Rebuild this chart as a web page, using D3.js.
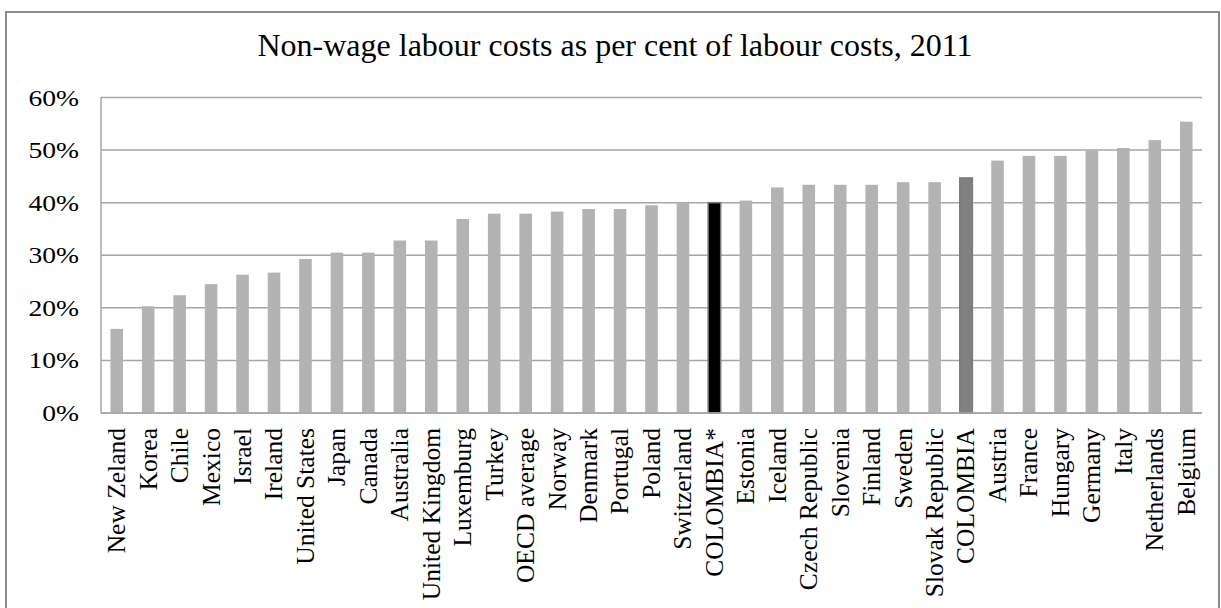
<!DOCTYPE html>
<html>
<head>
<meta charset="utf-8">
<script src="https://cdn.jsdelivr.net/npm/d3@7"></script>
<style>
  html, body { margin: 0; padding: 0; background: #fff; }
  svg { display: block; }
  text { font-family: "Liberation Serif", "Times New Roman", serif; fill: #000; }
</style>
</head>
<body>
<svg id="chart" width="1221" height="608"></svg>
<script>
// Non-wage labour costs, share of total labour costs (%), 2011
const countries = [
  "New Zeland", "Korea", "Chile", "Mexico", "Israel", "Ireland", "United States",
  "Japan", "Canada", "Australia", "United Kingdom", "Luxemburg", "Turkey",
  "OECD average", "Norway", "Denmark", "Portugal", "Poland", "Switzerland",
  "COLOMBIA*", "Estonia", "Iceland", "Czech Republic", "Slovenia", "Finland",
  "Sweden", "Slovak Republic", "COLOMBIA", "Austria", "France", "Hungary",
  "Germany", "Italy", "Netherlands", "Belgium"
];
const shares = [
  16.0, 20.3, 22.4, 24.5, 26.3, 26.7, 29.3,
  30.5, 30.5, 32.8, 32.8, 36.9, 37.9,
  37.9, 38.3, 38.8, 38.8, 39.5, 39.9,
  40.0, 40.4, 42.9, 43.4, 43.4, 43.4,
  43.9, 43.9, 44.7, 48.0, 48.9, 48.9,
  50.0, 50.4, 51.9, 55.4
];
const yTicks = [0, 10, 20, 30, 40, 50, 60];
const title = "Non-wage labour costs as per cent of labour costs, 2011";

const svg = d3.select("#chart");
const plot = { left: 101, right: 1202, top: 97.5, bottom: 413 };

// chart frame
svg.append("rect")
  .attr("x", 6).attr("y", 12)
  .attr("width", 1213).attr("height", 620)
  .attr("fill", "#fff")
  .attr("stroke", "#8c8c8c").attr("stroke-width", 2);

const data = countries.map((c, i) => ({ country: c, value: shares[i] }));

const x = d3.scaleBand()
  .domain(countries)
  .range([plot.left, plot.right])
  .paddingInner(0.6)
  .paddingOuter(0.3);

const y = d3.scaleLinear()
  .domain([0, 60])
  .range([plot.bottom, plot.top]);

// horizontal gridlines
svg.append("g")
  .selectAll("line")
  .data(yTicks)
  .join("line")
  .attr("x1", plot.left).attr("x2", plot.right)
  .attr("y1", d => y(d)).attr("y2", d => y(d))
  .attr("stroke", "#a6a6a6").attr("stroke-width", 1.5);

// value axis line
svg.append("line")
  .attr("x1", plot.left).attr("x2", plot.left)
  .attr("y1", y(60)).attr("y2", y(0))
  .attr("stroke", "#a6a6a6").attr("stroke-width", 1.5);

// value axis labels
svg.append("g")
  .selectAll("text")
  .data(yTicks)
  .join("text")
  .attr("transform", d => `translate(79,${y(d)}) scale(1.2,1)`)
  .attr("text-anchor", "end")
  .attr("dy", "0.35em")
  .style("font-size", "23px")
  .text(d => d + "%");

// bar fills: two Colombia estimates stand out
const fillFor = c => c === "COLOMBIA*" ? "#000000" : c === "COLOMBIA" ? "#808080" : "#b3b3b3";
const strokeFor = c => (c === "COLOMBIA*" || c === "COLOMBIA") ? "#7a7a7a" : "none";

svg.append("g")
  .selectAll("rect")
  .data(data)
  .join("rect")
  .attr("x", d => x(d.country))
  .attr("width", x.bandwidth())
  .attr("y", d => y(d.value))
  .attr("height", d => y(0) - y(d.value))
  .attr("fill", d => fillFor(d.country))
  .attr("stroke", d => strokeFor(d.country))
  .attr("stroke-width", 1.5);

// baseline
svg.append("line")
  .attr("x1", plot.left).attr("x2", plot.right)
  .attr("y1", y(0)).attr("y2", y(0))
  .attr("stroke", "#a6a6a6").attr("stroke-width", 1.5);

// category labels, rotated
svg.append("g")
  .selectAll("text")
  .data(countries)
  .join("text")
  .attr("transform", d => `translate(${x(d) + x.bandwidth() / 2},428) rotate(-90)`)
  .attr("text-anchor", "end")
  .attr("dy", "0.33em")
  .style("font-size", "25.5px")
  .text(d => d);

// title
svg.append("text")
  .attr("x", 615).attr("y", 56)
  .attr("text-anchor", "middle")
  .style("font-size", "32px")
  .text(title);
</script>
</body>
</html>
